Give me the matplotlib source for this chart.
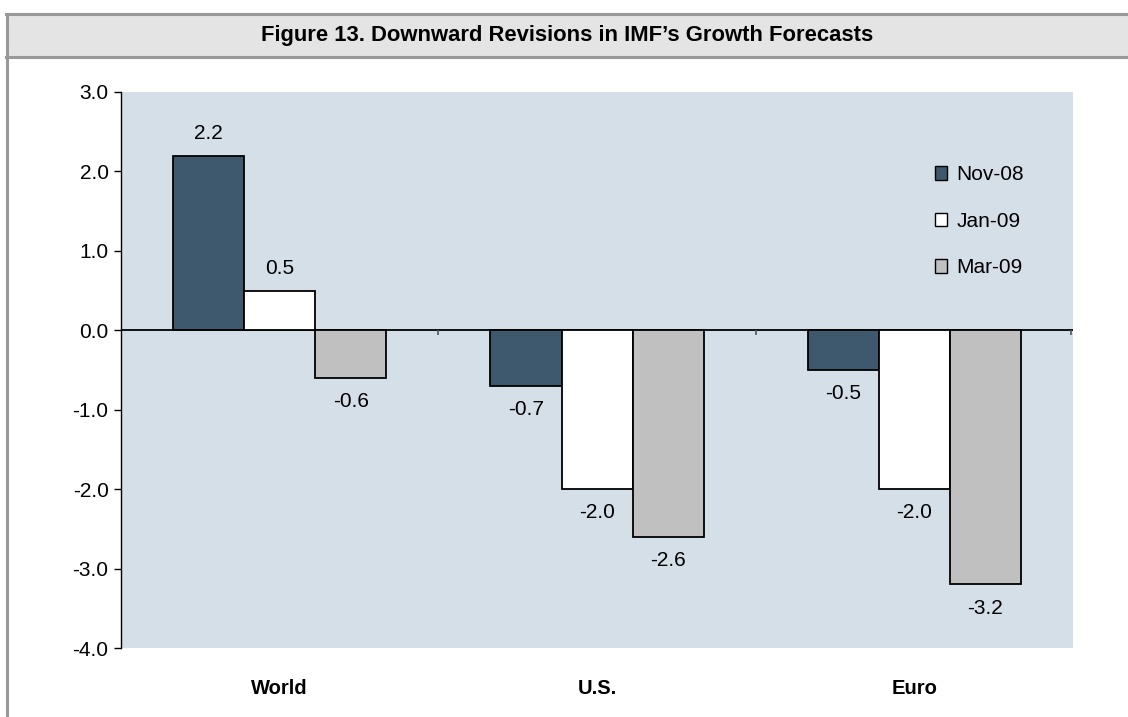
import matplotlib
matplotlib.use('Agg')
import matplotlib.pyplot as plt
from matplotlib.patches import Rectangle
from matplotlib.lines import Line2D
import numpy as np

# Chart data
categories = ['World', 'U.S.', 'Euro']
series_names = ['Nov-08', 'Jan-09', 'Mar-09']
nov08 = [2.2, -0.7, -0.5]
jan09 = [0.5, -2.0, -2.0]
mar09 = [-0.6, -2.6, -3.2]
y_ticks = [3.0, 2.0, 1.0, 0.0, -1.0, -2.0, -3.0, -4.0]

colors = ['#3e596d', '#ffffff', '#c0c0c0']
plt.rcParams['font.family'] = ['Liberation Sans', 'DejaVu Sans']

fig = plt.figure(figsize=(11.28, 7.17), dpi=100)

# Title band and outer box
fig.patches.append(Rectangle((0.005, 0.920), 1.0, 0.060, transform=fig.transFigure,
                             facecolor='#e4e4e4', edgecolor='none', zorder=0))
fig.add_artist(Line2D([0.005, 1.0], [0.980, 0.980], transform=fig.transFigure,
                      color='#999999', lw=2.2))
fig.add_artist(Line2D([0.005, 1.0], [0.920, 0.920], transform=fig.transFigure,
                      color='#999999', lw=2.2))
fig.add_artist(Line2D([0.006, 0.006], [0.0, 0.980], transform=fig.transFigure,
                      color='#999999', lw=2.2))
fig.text(0.503, 0.951, "Figure 13. Downward Revisions in IMF\u2019s Growth Forecasts",
         ha='center', va='center', fontsize=15.8, fontweight='bold')

ax = fig.add_axes([0.1073, 0.0962, 0.844, 0.7755])
ax.set_facecolor('#d5dfe7')

x = np.arange(len(categories))
w = 0.224
for i, (vals, name) in enumerate(zip([nov08, jan09, mar09], series_names)):
    pos = x + (i - 1) * w
    ax.bar(pos, vals, width=w, color=colors[i], edgecolor='black', linewidth=1.3,
           label=name, zorder=3)
    for px, v in zip(pos, vals):
        off = 0.28 if v >= 0 else -0.3
        ax.text(px, v + off, f'{v:.1f}', ha='center', va='center', fontsize=15, zorder=4)

ax.axhline(0, color='black', lw=1.3, zorder=2)
ax.vlines([0.5, 1.5, 2.495], -0.065, 0, color='#555555', lw=1.2, zorder=2)

ax.set_xlim(-0.5, 2.5)
ax.set_ylim(-4, 3)
ax.set_yticks(y_ticks)
ax.set_yticklabels([f'{t:.1f}' for t in y_ticks], fontsize=15)
ax.set_xticks(x)
ax.set_xticklabels(categories, fontsize=14.5, fontweight='bold')
ax.tick_params(axis='x', length=0, pad=22)
ax.tick_params(axis='y', length=5, width=1, pad=4, direction='out')
for s in ['top', 'right', 'bottom']:
    ax.spines[s].set_visible(False)
ax.spines['left'].set_linewidth(1)

leg = ax.legend(loc='upper left', bbox_to_anchor=(0.835, 0.902), frameon=False,
                fontsize=15, handlelength=0.6, handleheight=0.6, handletextpad=0.45,
                labelspacing=1.32)
for h in leg.legend_handles:
    h.set_linewidth(1)

fig.savefig('out.png', dpi=100)
